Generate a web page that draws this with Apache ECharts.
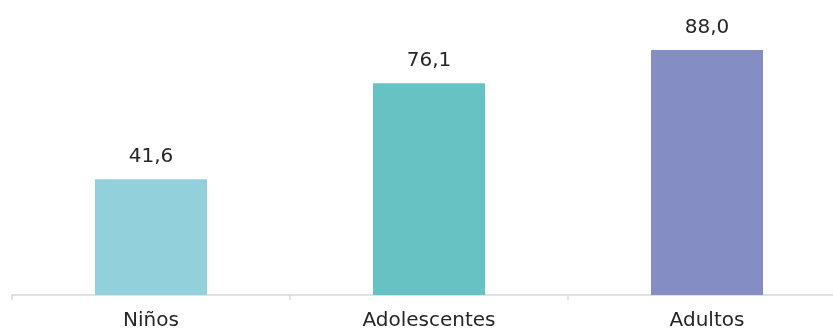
<!DOCTYPE html>
<html><head><meta charset="utf-8">
<script src="https://cdn.jsdelivr.net/npm/echarts@6/dist/echarts.min.js"></script>
<style>html,body{margin:0;padding:0;background:#fff}#c{width:833px;height:329px}</style>
</head><body><div id="c"></div>
<script>
const categories = ["Niños", "Adolescentes", "Adultos"];
const values = [41.6, 76.1, 88.0];
const barColors = ["#92D1DC", "#67C2C3", "#848EC4"];

const chart = echarts.init(document.getElementById('c'), null, {renderer: 'canvas'});
chart.setOption({
  animation: false,
  grid: {left: 12, top: 16.6, bottom: 34, right: -13, outerBoundsMode: 'none', containLabel: false},
  xAxis: {
    type: 'category',
    data: categories,
    axisLine: {lineStyle: {color: '#d9d9d9', width: 1.5}},
    axisTick: {show: true, length: 5, lineStyle: {color: '#d9d9d9', width: 1.5}},
    axisLabel: {color: '#262626', fontSize: 20, fontFamily: 'DejaVu Sans', margin: 16}
  },
  yAxis: {
    type: 'value', min: 0, max: 100,
    show: false
  },
  series: [{
    type: 'bar',
    barWidth: 112,
    data: values.map((v, i) => ({value: v, itemStyle: {color: barColors[i]}})),
    label: {
      show: true, position: 'top', distance: 12,
      color: '#262626', fontSize: 20, fontFamily: 'DejaVu Sans',
      formatter: p => p.value.toFixed(1).replace('.', ',')
    }
  }]
});
</script></body></html>
